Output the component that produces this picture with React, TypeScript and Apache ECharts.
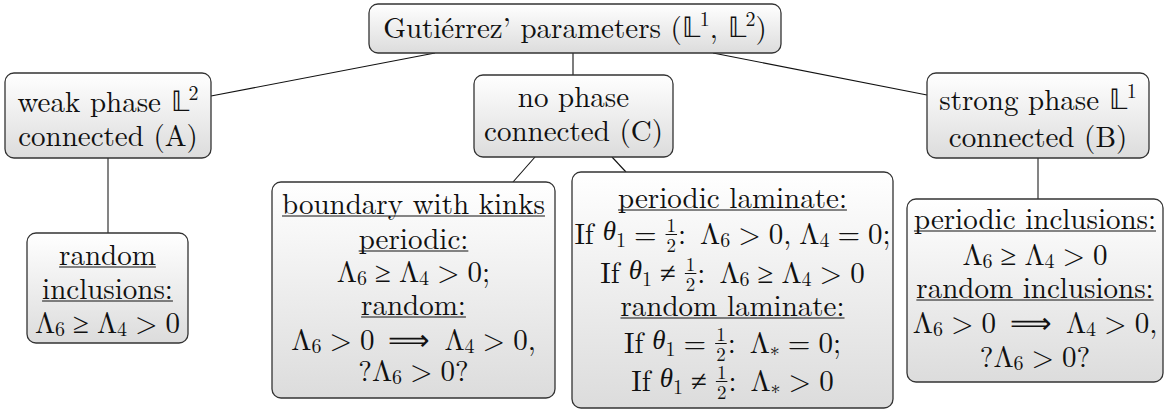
import React, { useEffect, useRef } from "react";
import * as echarts from "echarts";

// ---------- content (data) ----------
// "_" prefix = underlined heading, "$" prefix = math line (math spacing)
const nodeIds = ["root", "weak", "none", "strong", "randIncl", "kinks", "laminate", "perIncl"];
const rootLines = ["Gutiérrez’ parameters ({dbl|𝕃}{sup|1}, {dbl|𝕃}{sup|2})"];
const weakLines = ["weak phase {dbl|𝕃}{sup|2}", "connected (A)"];
const noneLines = ["no phase", "connected (C)"];
const strongLines = ["strong phase {dbl|𝕃}{sup|1}", "connected (B)"];
const randInclLines = ["_random", "_inclusions:", "$Λ{sub|6} ≥ Λ{sub|4} > 0"];
const kinksLines = [
  "_boundary with kinks",
  "_periodic:",
  "$Λ{sub|6} ≥ Λ{sub|4} > 0;",
  "_random:",
  "$Λ{sub|6} > 0 {g|6}⟹{g|6} Λ{sub|4} > 0,",
  "$?Λ{sub|6} > 0?",
];
const laminateLines = [
  "_periodic laminate:",
  "$If{g|9}{it|θ}{sub|1} = {frac|1/2}:{g|6} Λ{sub|6} > 0, Λ{sub|4} = 0;",
  "$If{g|9}{it|θ}{sub|1} ≠ {frac|1/2}:{g|6} Λ{sub|6} ≥ Λ{sub|4} > 0",
  "_random laminate:",
  "$If{g|9}{it|θ}{sub|1} = {frac|1/2}:{g|6} Λ{sub|∗} = 0;",
  "$If{g|9}{it|θ}{sub|1} ≠ {frac|1/2}:{g|6} Λ{sub|∗} > 0",
];
const perInclLines = [
  "_periodic inclusions:",
  "$Λ{sub|6} ≥ Λ{sub|4} > 0",
  "_random inclusions:",
  "$Λ{sub|6} > 0 {g|6}⟹{g|6} Λ{sub|4} > 0,",
  "$?Λ{sub|6} > 0?",
];
const nodeLines: Record<string, string[]> = {
  root: rootLines,
  weak: weakLines,
  none: noneLines,
  strong: strongLines,
  randIncl: randInclLines,
  kinks: kinksLines,
  laminate: laminateLines,
  perIncl: perInclLines,
};
const edgeList = [
  ["root", "weak"],
  ["root", "none"],
  ["root", "strong"],
  ["weak", "randIncl"],
  ["none", "kinks"],
  ["none", "laminate"],
  ["strong", "perIncl"],
];

// ---------- layout (positions / sizes) ----------
const boxLayout: Record<string, number[]> = {
  root: [369, 4, 412, 49],
  weak: [5, 73, 206, 85],
  none: [474, 75, 199, 82],
  strong: [927, 73, 222, 85],
  randIncl: [27, 233, 161, 110],
  kinks: [272, 182, 283, 216],
  laminate: [572, 172, 321, 236],
  perIncl: [907, 199, 256, 183],
};
const lineLayout: Record<string, number[]> = {
  root: [28],
  weak: [102, 136],
  none: [97, 131],
  strong: [100, 137],
  randIncl: [255, 289, 323],
  kinks: [204, 239, 272, 305, 340, 371],
  laminate: [198, 234, 273, 306, 343, 381],
  perIncl: [219, 255, 288, 323, 357],
};
const edgeLayout = [
  [435, 53, 211, 96],
  [573, 53, 573, 75],
  [713, 53, 927, 95],
  [108, 158, 108, 233],
  [535, 157, 513, 182],
  [612, 157, 626, 172],
  [1038, 158, 1038, 199],
];
const edgeStyle = ["#111", "#111", "#111", "#777", "#111", "#111", "#777"];
const edgeWidth = [1.1, 1.1, 1.1, 1.8, 1.1, 1.1, 1.8];

const FONT = "Latin Modern Roman";
const IT_FONT = "Liberation Serif";
const BASE = 29;
const SMALL = 20;
const MATH_SPACE = 8;
const TEXT_SHIFT = -3;
const TEXT_COLOR = "#111111";

type Tok = { kind: string; text: string };

function parse(line: string): Tok[] {
  const out: Tok[] = [];
  const re = /\{(\w+)\|([^}]*)\}/g;
  let last = 0;
  let m: RegExpExecArray | null;
  while ((m = re.exec(line))) {
    if (m.index > last) out.push({ kind: "n", text: line.slice(last, m.index) });
    out.push({ kind: m[1], text: m[2] });
    last = re.lastIndex;
  }
  if (last < line.length) out.push({ kind: "n", text: line.slice(last) });
  return out;
}

export default function App() {
  const ref = useRef<HTMLDivElement>(null);
  useEffect(() => {
    if (!ref.current) return;
    const chart = echarts.init(ref.current, null, { renderer: "svg" });
    const ctx = document.createElement("canvas").getContext("2d")!;
    const fontOf = (kind: string) => {
      const size =
        kind === "sub" || kind === "sup" ? SMALL : kind === "frac" ? 19 : kind === "dbl" ? 28 : kind === "it" ? 27 : BASE;
      const style = kind === "it" ? "italic" : "normal";
      const family = kind === "it" ? IT_FONT : FONT;
      return { size, style, family };
    };
    const measure = (text: string, kind: string) => {
      const f = fontOf(kind);
      ctx.font = `${f.style} ${f.size}px "${f.family}"`;
      return ctx.measureText(text).width;
    };

    const elements: any[] = [];
    edgeList.forEach((e, i) => {
      const [x1, y1, x2, y2] = edgeLayout[i];
      elements.push({
        type: "line",
        shape: { x1, y1, x2, y2 },
        style: { stroke: edgeStyle[i], lineWidth: edgeWidth[i] },
        z: 1,
      });
    });

    nodeIds.forEach((id) => {
      const [bx, by, bw, bh] = boxLayout[id];
      elements.push({
        type: "rect",
        shape: { x: bx, y: by, width: bw, height: bh, r: 9 },
        style: {
          fill: new echarts.graphic.LinearGradient(0, 0, 0, 1, [
            { offset: 0, color: "#ffffff" },
            { offset: 1, color: "#dcdcdc" },
          ]),
          stroke: "#333",
          lineWidth: 1.3,
        },
        z: 2,
      });
      const cx = bx + bw / 2;
      nodeLines[id].forEach((raw, li) => {
        const underline = raw.startsWith("_");
        const math = raw.startsWith("$");
        const line = underline || math ? raw.slice(1) : raw;
        type Piece = { kind: string; text: string; w: number };
        const pieces: Piece[] = [];
        parse(line).forEach((t) => {
          if (t.kind === "g") {
            pieces.push({ kind: "g", text: "", w: parseFloat(t.text) });
          } else if (t.kind === "frac") {
            const [a, b] = t.text.split("/");
            pieces.push({ kind: "frac", text: t.text, w: Math.max(measure(a, "frac"), measure(b, "frac")) + 4 });
          } else {
            const parts = t.text.split(/( +)/);
            parts.forEach((p) => {
              if (!p.length) return;
              if (/^ +$/.test(p)) {
                pieces.push({ kind: "g", text: "", w: math ? MATH_SPACE * p.length : measure(p, t.kind) });
              } else {
                pieces.push({ kind: t.kind, text: p, w: measure(p, t.kind) });
              }
            });
          }
        });
        const total = pieces.reduce((a, p) => a + p.w, 0);
        const cy = lineLayout[id][li] + TEXT_SHIFT;
        let x = cx - total / 2;
        pieces.forEach((p) => {
          if (p.kind === "g") {
            x += p.w;
            return;
          }
          if (p.kind === "frac") {
            const [a, b] = p.text.split("/");
            const f = fontOf("frac");
            elements.push({
              type: "text",
              x: x + p.w / 2,
              y: cy - 7,
              style: { text: a, fontSize: f.size, fontFamily: FONT, fill: TEXT_COLOR, align: "center", verticalAlign: "middle" },
              z: 3,
            });
            elements.push({
              type: "line",
              shape: { x1: x + 1, y1: cy + 3.5, x2: x + p.w - 1, y2: cy + 3.5 },
              style: { stroke: TEXT_COLOR, lineWidth: 1 },
              z: 3,
            });
            elements.push({
              type: "text",
              x: x + p.w / 2,
              y: cy + 13,
              style: { text: b, fontSize: f.size, fontFamily: FONT, fill: TEXT_COLOR, align: "center", verticalAlign: "middle" },
              z: 3,
            });
            x += p.w;
            return;
          }
          const f = fontOf(p.kind);
          const dy = p.kind === "sub" ? 7 : p.kind === "sup" ? -8 : 0;
          elements.push({
            type: "text",
            x,
            y: cy + dy,
            style: {
              text: p.text,
              fontSize: f.size,
              fontStyle: f.style,
              fontFamily: f.family,
              fill: TEXT_COLOR,
              align: "left",
              verticalAlign: "middle",
            },
            z: 3,
          });
          x += p.w;
        });
        if (underline) {
          elements.push({
            type: "line",
            shape: { x1: cx - total / 2, y1: cy + 15, x2: cx + total / 2, y2: cy + 15 },
            style: { stroke: TEXT_COLOR, lineWidth: 1.2 },
            z: 3,
          });
        }
      });
    });

    chart.setOption({
      animation: false,
      backgroundColor: "#ffffff",
      graphic: { elements },
    });
    return () => chart.dispose();
  }, []);
  return (
    <div
      ref={ref}
      style={{ position: "fixed", left: 0, top: 0, width: 1167, height: 409 }}
    />
  );
}
